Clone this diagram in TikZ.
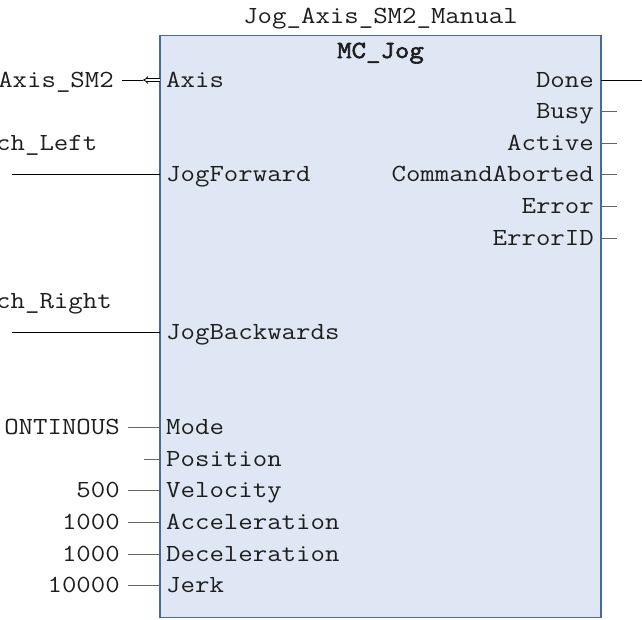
\documentclass[tikz,border=0pt]{standalone}
\usepackage{fontspec}
\setmonofont[FakeStretch=1.14]{Latin Modern Mono}
\newfontfamily\fbboldfont[FakeStretch=1.14,FakeBold=2.5]{Latin Modern Mono}
\usetikzlibrary{arrows.meta}
\definecolor{fbfill}{RGB}{223,231,245}
\definecolor{fbline}{RGB}{70,106,160}
\definecolor{ctext}{RGB}{30,30,30}
\definecolor{cstub}{RGB}{100,100,100}

\begin{document}
\begin{tikzpicture}[
  x=1pt,y=-1pt,
  font=\ttfamily\fontsize{24.6}{28}\selectfont,
  text=ctext,
  fblock/.style={draw=fbline,fill=fbfill,line width=1.5pt,inner sep=0pt},
  lbl/.style={text height=14pt,text depth=0pt,inner ysep=0pt},
  pinin/.style={lbl,anchor=west,inner xsep=6pt},
  pinout/.style={lbl,anchor=east,inner xsep=7pt},
  varin/.style={lbl,anchor=east,inner xsep=8pt},
  varname/.style={lbl,anchor=west,inner xsep=0pt},
  wire/.style={line width=0.8pt,black},
  stub/.style={line width=0.8pt,cstub}
]
  \useasboundingbox (0,0) rectangle (642,619);

  % function block
  \node[fblock,minimum width=441pt,minimum height=582pt] (fb) at (380.5,326.5) {};
  \node[lbl] (inst) at (380.5,16) {Jog\_Axis\_SM2\_Manual};
  \node[lbl,font=\fbboldfont\fontsize{24.6}{28}\selectfont] (ftype) at (380.5,51) {MC\_Jog};

  % inputs
  \node[pinin] (pAxis) at (160,80) {Axis};
  \node[pinin] (pFwd) at (160,174.8) {JogForward};
  \node[pinin] (pBwd) at (160,332.8) {JogBackwards};
  \node[pinin] (pMode) at (160,427.6) {Mode};
  \node[pinin] (pPos) at (160,459.2) {Position};
  \node[pinin] (pVel) at (160,490.8) {Velocity};
  \node[pinin] (pAcc) at (160,522.4) {Acceleration};
  \node[pinin] (pDec) at (160,554) {Deceleration};
  \node[pinin] (pJerk) at (160,585.6) {Jerk};

  % outputs
  \node[pinout] (pDone) at (601,80) {Done};
  \node[pinout] (pBusy) at (601,111.6) {Busy};
  \node[pinout] (pActive) at (601,143.2) {Active};
  \node[pinout] (pAbort) at (601,174.8) {CommandAborted};
  \node[pinout] (pError) at (601,206.4) {Error};
  \node[pinout] (pErrID) at (601,238) {ErrorID};

  % actual parameters
  \node[varin] (vAxis) at (122,80) {Axis\_SM2};
  \node[varname] (vLeft) at (-4,143.2) {ch\_Left};
  \node[varname] (vRight) at (-4,301.2) {ch\_Right};
  \node[varin] (vMode) at (128,427.6) {ONTINOUS};
  \node[varin] (vVel) at (128,490.8) {500};
  \node[varin] (vAcc) at (128,522.4) {1000};
  \node[varin] (vDec) at (128,554) {1000};
  \node[varin] (vJerk) at (128,585.6) {10000};

  \coordinate (axisio) at (143,80);
  \coordinate (fwdin) at (12,174.8);
  \coordinate (bwdin) at (12,332.8);
  \coordinate (doneout) at (642,80);

  \draw[wire] (vAxis.east) -- (axisio);
  \draw[wire,double,double distance=1.8pt,{Implies}-] (axisio) -- (pAxis.west);
  \draw[wire] (fwdin) -- (pFwd.west);
  \draw[wire] (bwdin) -- (pBwd.west);
  \draw[stub] (vMode.east) -- (pMode.west);
  \draw[stub] (pPos.west) -- ++(-16,0);
  \draw[stub] (vVel.east) -- (pVel.west);
  \draw[stub] (vAcc.east) -- (pAcc.west);
  \draw[stub] (vDec.east) -- (pDec.west);
  \draw[stub] (vJerk.east) -- (pJerk.west);

  \draw[wire] (pDone.east) -- (doneout);
  \draw[stub] (pBusy.east) -- ++(16,0);
  \draw[stub] (pActive.east) -- ++(16,0);
  \draw[stub] (pAbort.east) -- ++(16,0);
  \draw[stub] (pError.east) -- ++(16,0);
  \draw[stub] (pErrID.east) -- ++(16,0);
\end{tikzpicture}
\end{document}
